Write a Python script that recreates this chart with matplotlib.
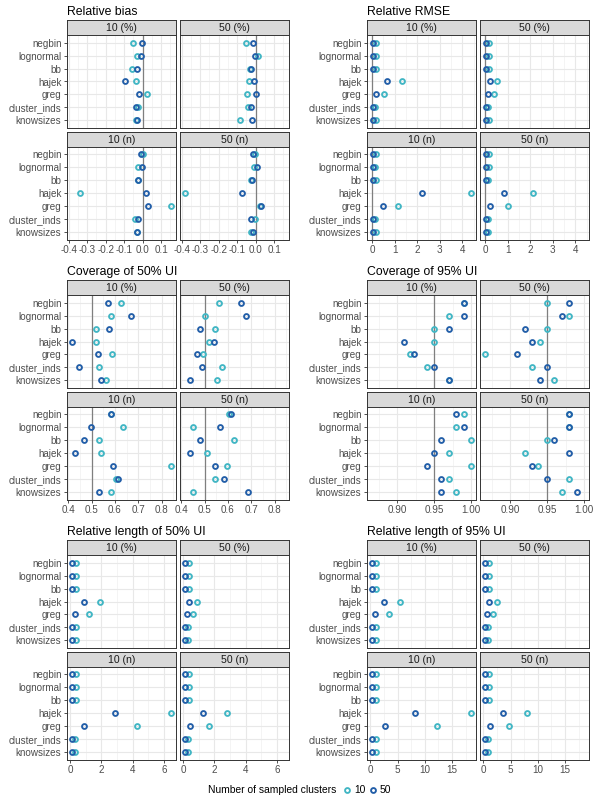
import matplotlib
matplotlib.use("Agg")
import matplotlib.pyplot as plt
from matplotlib.lines import Line2D
import numpy as np

plt.rcParams['font.family'] = ['Liberation Sans', 'DejaVu Sans']
plt.rcParams['axes.unicode_minus'] = False

categories = ["negbin", "lognormal", "bb", "hajek", "greg", "cluster_inds", "knowsizes"]
facet_labels = ["10 (%)", "50 (%)", "10 (n)", "50 (n)"]
series_labels = ["10", "50"]

# each metric: 4 facets (10 (%), 50 (%), 10 (n), 50 (n)) x 7 categories
bias_c10 = [[-0.054, -0.029, -0.055, -0.034, 0.022, -0.024, -0.036],
            [-0.052, 0.011, -0.032, -0.037, -0.048, -0.043, -0.086],
            [0.002, -0.023, -0.027, -0.339, 0.154, -0.043, -0.032],
            [-0.002, -0.011, -0.023, -0.382, 0.025, -0.002, -0.023]]
bias_c50 = [[-0.005, -0.009, -0.030, -0.096, -0.021, -0.037, -0.029],
            [-0.014, -0.004, -0.025, -0.007, 0.004, -0.025, -0.018],
            [-0.007, -0.004, -0.024, 0.020, 0.030, -0.025, -0.029],
            [-0.014, 0.007, -0.019, -0.075, 0.032, -0.023, -0.013]]

rmse_c10 = [[0.17, 0.17, 0.17, 1.35, 0.52, 0.15, 0.16],
            [0.18, 0.16, 0.17, 0.55, 0.40, 0.14, 0.16],
            [0.16, 0.15, 0.18, 4.39, 1.16, 0.14, 0.16],
            [0.17, 0.16, 0.15, 2.15, 1.03, 0.14, 0.15]]
rmse_c50 = [[0.05, 0.05, 0.05, 0.66, 0.17, 0.05, 0.05],
            [0.03, 0.03, 0.05, 0.21, 0.12, 0.03, 0.03],
            [0.05, 0.05, 0.06, 2.22, 0.47, 0.05, 0.05],
            [0.03, 0.03, 0.04, 0.86, 0.21, 0.03, 0.03]]

cov50_c10 = [[0.624, 0.583, 0.520, 0.520, 0.586, 0.530, 0.562],
             [0.562, 0.501, 0.543, 0.521, 0.494, 0.574, 0.552],
             [0.583, 0.635, 0.530, 0.540, 0.840, 0.603, 0.583],
             [0.605, 0.452, 0.626, 0.511, 0.595, 0.543, 0.449]]
cov50_c50 = [[0.571, 0.667, 0.573, 0.416, 0.526, 0.447, 0.540],
             [0.656, 0.677, 0.479, 0.540, 0.469, 0.490, 0.438],
             [0.583, 0.499, 0.469, 0.427, 0.591, 0.614, 0.530],
             [0.615, 0.564, 0.479, 0.438, 0.545, 0.584, 0.687]]

cov95_c10 = [[0.99, 0.97, 0.95, 0.95, 0.917, 0.94, 0.97],
             [0.95, 0.98, 0.95, 0.94, 0.866, 0.93, 0.96],
             [0.99, 0.98, 1.00, 0.97, 1.00, 0.97, 0.98],
             [0.98, 0.98, 0.95, 0.92, 0.938, 0.98, 0.97]]
cov95_c50 = [[0.99, 0.99, 0.97, 0.91, 0.923, 0.95, 0.97],
             [0.98, 0.97, 0.92, 0.93, 0.91, 0.95, 0.94],
             [0.98, 0.99, 0.96, 0.95, 0.941, 0.96, 0.96],
             [0.98, 0.98, 0.96, 0.98, 0.929, 0.95, 0.99]]

len50_c10 = [[0.39, 0.39, 0.39, 1.91, 1.23, 0.37, 0.37],
             [0.36, 0.36, 0.36, 0.88, 0.65, 0.34, 0.34],
             [0.36, 0.36, 0.36, 6.45, 4.28, 0.34, 0.34],
             [0.36, 0.36, 0.36, 2.82, 1.66, 0.34, 0.34]]
len50_c50 = [[0.13, 0.13, 0.13, 0.88, 0.34, 0.13, 0.13],
             [0.13, 0.13, 0.13, 0.37, 0.24, 0.13, 0.13],
             [0.13, 0.13, 0.13, 2.87, 0.89, 0.13, 0.13],
             [0.13, 0.13, 0.13, 1.31, 0.45, 0.13, 0.13]]

len95_c10 = [[1.10, 1.05, 1.05, 5.37, 3.41, 1.00, 1.00],
             [1.04, 1.00, 1.00, 2.44, 1.77, 0.95, 0.95],
             [1.05, 1.05, 1.05, 18.48, 12.26, 1.00, 1.00],
             [1.05, 1.05, 1.05, 7.93, 4.63, 0.95, 0.95]]
len95_c50 = [[0.30, 0.30, 0.30, 2.44, 0.91, 0.30, 0.30],
             [0.30, 0.30, 0.30, 0.98, 0.61, 0.30, 0.30],
             [0.30, 0.30, 0.30, 8.23, 2.62, 0.30, 0.30],
             [0.30, 0.30, 0.30, 3.66, 1.22, 0.30, 0.30]]

panel_titles = ["Relative bias", "Relative RMSE", "Coverage of 50% UI",
                "Coverage of 95% UI", "Relative length of 50% UI", "Relative length of 95% UI"]
panel_c10 = [bias_c10, rmse_c10, cov50_c10, cov95_c10, len50_c10, len95_c10]
panel_c50 = [bias_c50, rmse_c50, cov50_c50, cov95_c50, len50_c50, len95_c50]
panel_ref = [0.0, 0.0, 0.5, 0.95, None, None]
panel_major = [[-0.4, -0.3, -0.2, -0.1, 0.0, 0.1], [0, 1, 2, 3, 4],
               [0.4, 0.5, 0.6, 0.7, 0.8], [0.90, 0.95, 1.00],
               [0, 2, 4, 6], [0, 5, 10, 15]]
panel_ticklabels = [["-0.4", "-0.3", "-0.2", "-0.1", "0.0", "0.1"], ["0", "1", "2", "3", "4"],
                    ["0.4", "0.5", "0.6", "0.7", "0.8"], ["0.90", "0.95", "1.00"],
                    ["0", "2", "4", "6"], ["0", "5", "10", "15"]]

COL10 = "#41b6c4"
COL50 = "#225ea8"
MS, MEW = 3.5, 1.35

W, H = 600, 800
fig = plt.figure(figsize=(6, 8), dpi=100)


def box(x0, y0, x1, y1):
    return [x0 / W, 1 - y1 / H, (x1 - x0) / W, (y1 - y0) / H]


col_x = [[(67, 176), (180, 289)], [(367, 476), (480, 589)]]
row_dy = [0, 260, 520]
strip_y = [(20, 35), (131.5, 146.5)]
plot_y = [(35, 128), (146.5, 239.5)]
ypos = np.arange(len(categories))[::-1] + 1

for p in range(6):
    r, c = divmod(p, 2)
    dy = row_dy[r]
    c10 = panel_c10[p]
    c50 = panel_c50[p]
    allv = [v for f in c10 for v in f] + [v for f in c50 for v in f]
    if panel_ref[p] is not None:
        allv.append(panel_ref[p])
    lo, hi = min(allv), max(allv)
    ex = (hi - lo) * 0.05
    xlim = (lo - ex, hi + ex)
    majors = panel_major[p]
    step = majors[1] - majors[0]
    minors = np.arange(majors[0] - step / 2, xlim[1] + step, step)
    minors = [m for m in minors if xlim[0] < m < xlim[1]]

    fig.text(col_x[c][0][0] / W, 1 - (12 + dy) / H, panel_titles[p], fontsize=8.8,
             ha='left', va='center', color='black')

    for f in range(4):
        fr, fc = divmod(f, 2)
        x0, x1 = col_x[c][fc]
        sy0, sy1 = strip_y[fr]
        py0, py1 = plot_y[fr]
        # strip
        sax = fig.add_axes(box(x0, sy0 + dy, x1, sy1 + dy))
        sax.set_facecolor('#d9d9d9')
        sax.set_xticks([]); sax.set_yticks([])
        for s in sax.spines.values():
            s.set_color('#333333'); s.set_linewidth(0.7)
        sax.text(0.5, 0.45, facet_labels[f], transform=sax.transAxes, ha='center',
                 va='center', fontsize=7.6, color='#1a1a1a')
        # panel
        ax = fig.add_axes(box(x0, py0 + dy, x1, py1 + dy))
        ax.set_xlim(*xlim)
        ax.set_ylim(0.4, len(categories) + 0.6)
        ax.set_xticks(majors)
        ax.set_xticks(minors, minor=True)
        ax.set_yticks(ypos)
        ax.set_axisbelow(True)
        ax.grid(True, which='major', color='#e8e8e8', lw=0.8)
        ax.grid(True, which='minor', axis='x', color='#f0f0f0', lw=0.5)
        for s in ax.spines.values():
            s.set_color('#333333'); s.set_linewidth(0.7)
        ax.tick_params(which='minor', length=0)
        if fr == 1:
            ax.set_xticklabels(panel_ticklabels[p])
            ax.tick_params(axis='x', which='major', length=2.5, width=0.6, color='#333333',
                           labelsize=7.1, labelcolor='#4d4d4d', pad=1.5)
        else:
            ax.set_xticklabels([])
            ax.tick_params(axis='x', which='major', length=0)
        if fc == 0:
            ax.set_yticklabels(categories)
            ax.tick_params(axis='y', which='major', length=2.5, width=0.6, color='#333333',
                           labelsize=7.1, labelcolor='#4d4d4d', pad=1.5)
        else:
            ax.set_yticklabels([])
            ax.tick_params(axis='y', which='major', length=0)
        if panel_ref[p] is not None:
            ax.axvline(panel_ref[p], color='#7f7f7f', lw=0.9, zorder=1.5)
        ax.plot(c10[f], ypos, 'o', ls='none', mfc='none', mec=COL10, ms=MS, mew=MEW, zorder=3)
        ax.plot(c50[f], ypos, 'o', ls='none', mfc='none', mec=COL50, ms=MS, mew=MEW, zorder=4)

# legend
ly = 1 - 790 / H
fig.text(208 / W, ly, "Number of sampled clusters", fontsize=7.4, ha='left', va='center')
fig.add_artist(Line2D([347 / W], [ly], marker='o', ls='none', mfc='none', mec=COL10,
                      ms=MS, mew=MEW, transform=fig.transFigure))
fig.text(354 / W, ly, series_labels[0], fontsize=7.4, ha='left', va='center')
fig.add_artist(Line2D([373 / W], [ly], marker='o', ls='none', mfc='none', mec=COL50,
                      ms=MS, mew=MEW, transform=fig.transFigure))
fig.text(380 / W, ly, series_labels[1], fontsize=7.4, ha='left', va='center')

fig.savefig("out.png", dpi=100)
